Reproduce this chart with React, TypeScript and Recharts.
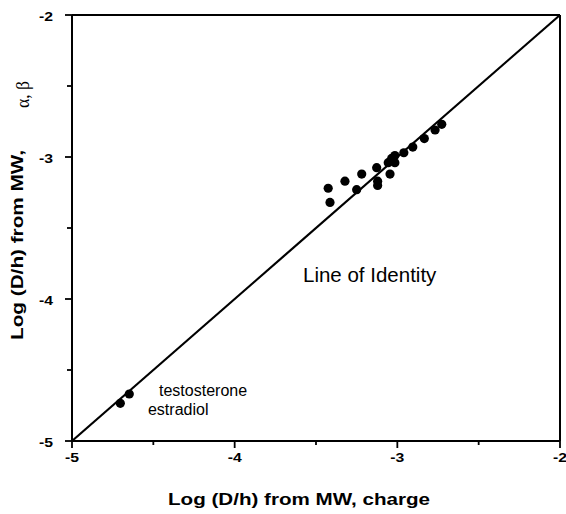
import React from 'react';
import { ScatterChart, Scatter, XAxis, YAxis, ReferenceLine, ReferenceDot, Label } from 'recharts';

const clusterX = [-3.425, -3.414, -3.322, -3.25, -3.219, -3.127, -3.121, -3.121, -3.045, -3.056, -3.035, -3.015, -3.015, -2.96, -2.905, -2.834, -2.768, -2.727];
const clusterY = [-3.22, -3.32, -3.17, -3.23, -3.12, -3.075, -3.17, -3.2, -3.12, -3.04, -3.01, -2.99, -3.04, -2.97, -2.93, -2.87, -2.81, -2.77];
const steroidX = [-4.703, -4.648];
const steroidY = [-4.735, -4.669];
const ticks = [-5, -4.5, -4, -3.5, -3, -2.5, -2];
const majorTicks = [-5, -4, -3, -2];

const points = [...clusterX.map((x, i) => ({ x, y: clusterY[i] })), ...steroidX.map((x, i) => ({ x, y: steroidY[i] }))];

const FONT = "Arial, 'Liberation Sans', sans-serif";
const SERIF = "'Liberation Serif', 'Times New Roman', serif";
const LEFT = 72;
const TOP = 15;
const W = 488;
const H = 426;
const BOTTOM = TOP + H;

const Dot = (p: any) => <circle cx={p.cx} cy={p.cy} r={4.6} fill="#000" />;

const XTick = (p: any) => {
  const v = p.payload.value;
  const major = majorTicks.includes(v);
  return (
    <g>
      <line x1={p.x} x2={p.x} y1={BOTTOM} y2={BOTTOM + (major ? 7 : 4)} stroke="#000" strokeWidth={1.8} />
      {major && (
        <text x={p.x} y={BOTTOM + 21} textAnchor="middle" fontFamily={FONT} fontWeight="bold" fontSize={12.5} textLength={14} lengthAdjust="spacingAndGlyphs" fill="#000">
          {String(v)}
        </text>
      )}
    </g>
  );
};

const YTick = (p: any) => {
  const v = p.payload.value;
  const major = majorTicks.includes(v);
  return (
    <g>
      <line x1={LEFT - (major ? 7 : 5)} x2={LEFT} y1={p.y} y2={p.y} stroke="#000" strokeWidth={1.8} />
      {major && (
        <text x={LEFT - 19} y={p.y + 6} textAnchor="end" fontFamily={FONT} fontWeight="bold" fontSize={12.5} textLength={14} lengthAdjust="spacingAndGlyphs" fill="#000">
          {String(v)}
        </text>
      )}
    </g>
  );
};

const TextAt = (text: string, size: number) => (props: any) => {
  const vb = props.viewBox || {};
  return (
    <text x={vb.x} y={vb.y} fontFamily={FONT} fontSize={size} fill="#000">
      {text}
    </text>
  );
};

export default function App() {
  return (
    <div style={{ position: 'absolute', left: 0, top: 0, width: 566, height: 514, background: '#fff' }}>
      <ScatterChart width={566} height={514} margin={{ top: TOP, right: 566 - LEFT - W, left: 0, bottom: 0 }}>
        <XAxis
          type="number"
          dataKey="x"
          domain={[-5, -2]}
          ticks={ticks}
          interval={0}
          allowDataOverflow
          height={514 - BOTTOM}
          axisLine={{ stroke: '#000', strokeWidth: 2 }}
          tickLine={false}
          tick={<XTick />}
        >
          <Label
            content={() => (
              <text x={168} y={504.5} textAnchor="start" fontFamily={FONT} fontWeight="bold" fontSize={17} textLength={262} lengthAdjust="spacingAndGlyphs" fill="#000">
                Log (D/h) from MW, charge
              </text>
            )}
          />
        </XAxis>
        <YAxis
          type="number"
          dataKey="y"
          domain={[-5, -2]}
          ticks={ticks}
          interval={0}
          allowDataOverflow
          width={LEFT}
          axisLine={{ stroke: '#000', strokeWidth: 2 }}
          tickLine={false}
          tick={<YTick />}
        >
          <Label
            content={() => (
              <g>
                <text transform="translate(23, 340) rotate(-90)" x={0} y={0} textAnchor="start" fontFamily={FONT} fontWeight="bold" fontSize={17} textLength={190} lengthAdjust="spacingAndGlyphs" fill="#000">
                  Log (D/h) from MW,
                </text>
                <text transform="translate(29, 108) rotate(-90)" x={0} y={0} textAnchor="start" fontFamily={SERIF} fontSize={19} textLength={27} lengthAdjust="spacingAndGlyphs" fill="#000">
                  α, β
                </text>
              </g>
            )}
          />
        </YAxis>
        <ReferenceLine y={-2} stroke="#000" strokeWidth={2} ifOverflow="visible" />
        <ReferenceLine x={-2} stroke="#000" strokeWidth={2} ifOverflow="visible" />
        <ReferenceLine
          segment={[{ x: -5, y: -5 }, { x: -2, y: -2 }]}
          stroke="#000"
          strokeWidth={2.2}
          ifOverflow="visible"
        />
        <Scatter data={points} isAnimationActive={false} shape={<Dot />} />
        <ReferenceDot x={-3.58} y={-3.88} r={0} fill="none" stroke="none" label={TextAt('Line of Identity', 20.5)} />
        <ReferenceDot x={-4.465} y={-4.683} r={0} fill="none" stroke="none" label={TextAt('testosterone', 16)} />
        <ReferenceDot x={-4.533} y={-4.817} r={0} fill="none" stroke="none" label={TextAt('estradiol', 16)} />
      </ScatterChart>
    </div>
  );
}
